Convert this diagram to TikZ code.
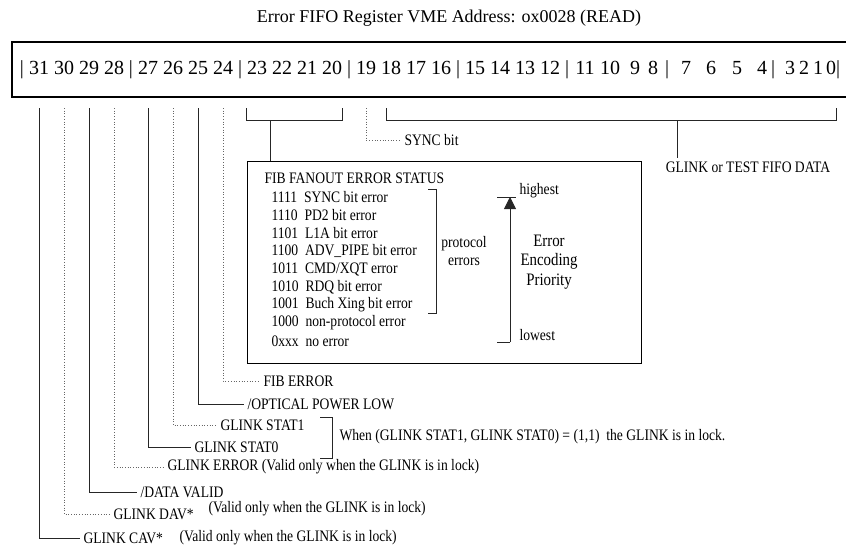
\documentclass[tikz,border=0pt]{standalone}
\usepackage{fontspec}
\setmainfont{Liberation Serif}
\newfontfamily\lblfont{Liberation Serif}[FakeStretch=0.85]
\usetikzlibrary{arrows.meta}
\usetikzlibrary{positioning}

\tikzset{
  bitnum/.style={font=\fontsize{20}{24}\selectfont, inner sep=0pt, anchor=base},
  lbl/.style={font=\fontsize{16}{18}\lblfont, anchor=west},
  solidline/.style={draw=black!85, line width=0.9pt},
  dotline/.style={draw=black!60, dotted, line width=0.7pt},
}

\begin{document}
\begin{tikzpicture}[x=1pt,y=-1pt]
\useasboundingbox (0,0) rectangle (846,546);
\clip (0,0) rectangle (846,546);

\node[font=\fontsize{18}{22}\selectfont] (title) at (449,18) {Error FIFO Register VME Address: ox0028 (READ)};
\draw[line width=2pt] (12,42) rectangle (870,97);

% bit numbers in the register
\foreach \g in {0,...,4}{
  \node[bitnum] (bar\g) at (22+109*\g,74) {|};
  \foreach \j in {0,...,3}{
    \pgfmathtruncatemacro{\n}{31-4*\g-\j}
    \node[bitnum] (b\n) at (39+109*\g+25*\j,74) {\n};
  }
}
\foreach \n/\x in {11/585,10/610,9/635,8/653,7/686,6/711,5/737,4/762,3/790,2/804,1/818,0/831}
  \node[bitnum] (b\n) at (\x,74) {\n};
\foreach \x [count=\k from 5] in {567,667,773,838}
  \node[bitnum] (bar\k) at (\x,74) {|};

\coordinate (ltop) at (0,108);
\coordinate (lbar) at (0,120);

% labels
\node[lbl] (lcav) at (80,538) {GLINK CAV*};
\node[lbl] (vcav) at (176,538) {(Valid only when the GLINK is in lock)};
\node[lbl] (ldav) at (110,514) {GLINK DAV*};
\node[lbl] (vdav) at (205,509) {(Valid only when the GLINK is in lock)};
\node[lbl] (ldv) at (137,492) {/DATA VALID};
\node[lbl] (lerr) at (164,467) {GLINK ERROR (Valid only when the GLINK is in lock)};
\node[lbl] (ls0) at (191,447) {GLINK STAT0};
\node[lbl] (ls1) at (217,425) {GLINK STAT1};
\node[lbl] (lopt) at (244,404) {/OPTICAL POWER LOW};
\node[lbl] (lfib) at (260,381) {FIB ERROR};
\node[lbl] (llock) at (336,437) {When (GLINK STAT1, GLINK STAT0) = (1,1)\ \ the GLINK is in lock.};
\node[lbl] (lsync) at (401,140) {SYNC bit};
\node[lbl, anchor=north] (ldata) at (748,158) {GLINK or TEST FIFO DATA};

\draw[solidline] (b31 |- ltop) |- (lcav.west);
\draw[dotline] (b30 |- ltop) |- (ldav.west);
\draw[solidline] (b29 |- ltop) |- (ldv.west);
\draw[dotline] (b28 |- ltop) |- (lerr.west);
\draw[solidline] (b27 |- ltop) |- (ls0.west);
\draw[dotline] (b26 |- ltop) |- (ls1.west);
\draw[solidline] (b25 |- ltop) |- (lopt.west);
\draw[dotline] (b24 |- ltop) |- (lfib.west);
\draw[dotline] (b19 |- ltop) |- (lsync.west);
\draw[solidline] (320,417) -| (332,458) -- (320,458);

% fanout error status box
\node[draw, line width=0.9pt, minimum width=394pt, minimum height=202pt, anchor=north west, inner sep=0pt] (fibbox) at (247,161) {};
\draw[solidline] (b23.west |- ltop) |- (b20.east |- lbar) -- (b20.east |- ltop);
\coordinate (fibstem) at (270,120);
\draw[solidline] (fibstem) -- (fibstem |- fibbox.north);

\coordinate (d18) at ([xshift=6pt]b18.west);
\draw[solidline] (d18 |- ltop) |- (b0.east |- lbar) -- (b0.east |- ltop);
\coordinate (datastem) at (677,120);
\draw[solidline] (datastem) -- (datastem |- ldata.north);

\node[lbl] (fibhead) at (261,178) {FIB FANOUT ERROR STATUS};
\foreach \code/\txt [count=\i] in {1111/SYNC bit error, 1110/PD2 bit error, 1101/L1A bit error, 1100/ADV\_PIPE bit error, 1011/{CMD/XQT error}, 1010/RDQ bit error, 1001/Buch Xing bit error, 1000/non-protocol error, 0xxx/no error}
  \node[lbl] (row\i) at (268,179+18*\i) {\code\ \ \txt};

\draw[solidline] (428,189) -| (436,313) -- (428,313);
\node[lbl, anchor=center, align=center] (lproto) at (464,251) {protocol\\errors};

\node[lbl, font=\fontsize{17.5}{19.5}\lblfont, anchor=center, align=center] (lprio) at (549,262) {Error\\Encoding\\Priority};
\node[lbl] (lhigh) at (516,191) {highest};
\node[lbl] (llow) at (516,335) {lowest};
\coordinate (atop) at (510,197);
\coordinate (abot) at (510,342);
\draw[solidline, -{Triangle[width=12pt,length=12pt]}] (abot) -- (atop);
\draw[solidline] (497,197) -- (516,197);
\draw[solidline] (497,342) -- (abot);

\end{tikzpicture}
\end{document}
